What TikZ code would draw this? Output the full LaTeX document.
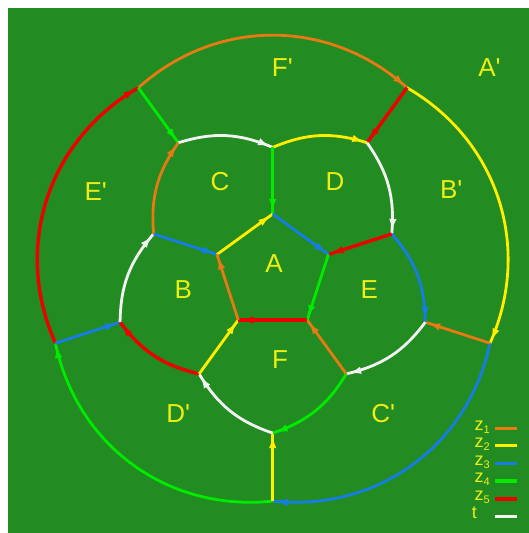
\documentclass[tikz,border=0pt]{standalone}
\usepackage{fontspec}
\setmainfont{Liberation Sans}[Ligatures=TeXOff]
\usetikzlibrary{decorations.markings,arrows.meta}
\definecolor{bg}{RGB}{34,139,34}
\definecolor{cOr}{RGB}{232,122,20}
\definecolor{cYe}{RGB}{255,238,0}
\definecolor{cBl}{RGB}{22,125,230}
\definecolor{cGr}{RGB}{0,235,0}
\definecolor{cRe}{RGB}{238,0,0}
\definecolor{cWh}{RGB}{242,242,242}
\definecolor{lab}{RGB}{238,238,20}
\tikzset{
  edge/.style={line width=2.8pt, postaction={decorate},
    decoration={markings, mark=at position -3pt with {\arrow{Latex[length=12pt,width=7.5pt]}}}},
  redge/.style={edge, line width=3.4pt},
  lbl/.style={text=lab, font=\fontsize{26}{26}\selectfont, inner sep=0pt},
  leg/.style={text=lab, font=\fontsize{18}{18}\selectfont, inner sep=0pt, anchor=mid east},
  swatch/.style={minimum width=22pt, minimum height=3.4pt, inner sep=0pt, outer sep=0pt}
}
\newcommand{\zsub}[1]{z{\fontsize{11}{11}\selectfont\raisebox{-3pt}{#1}}}
\begin{document}
\begin{tikzpicture}[x=1pt,y=1pt]
\useasboundingbox (0,0) rectangle (529,533);
\fill[bg] (8,0) rectangle (529,525);
\begin{scope}[shift={(272.7,260.4)}]
\foreach \i/\ang in {1/90,2/18,3/-54,4/-126,5/162}{
  \coordinate (a\i) at (\ang:58.6);
  \coordinate (b\i) at (\ang:125.2);
}
\foreach \i/\ang in {1/126,2/54,3/-18,4/-90,5/198}{
  \coordinate (c\i) at (\ang:160.5);
  \coordinate (d\i) at (\ang:228.5);
}
\end{scope}
% outer cycle
\draw[edge,cOr] (d1) to[bend left=42] (d2);
\draw[edge,cYe] (d2) to[bend left=42] (d3);
\draw[edge,cBl] (d3) to[bend left=42] (d4);
\draw[edge,cGr] (d4) to[bend left=42] (d5);
\draw[redge,cRe] (d5) to[bend left=42] (d1);
% outer spokes
\draw[edge,cGr] (d1) -- (c1);
\draw[redge,cRe] (d2) -- (c2);
\draw[edge,cOr] (d3) -- (c3);
\draw[edge,cYe] (d4) -- (c4);
\draw[edge,cBl] (d5) -- (c5);
% second ring
\draw[edge,cWh] (c1) to[bend left=20] (b1);
\draw[edge,cYe] (b1) to[bend left=20] (c2);
\draw[edge,cWh] (c2) to[bend left=20] (b2);
\draw[edge,cBl] (b2) to[bend left=20] (c3);
\draw[edge,cWh] (c3) to[bend left=20] (b3);
\draw[edge,cGr] (b3) to[bend left=20] (c4);
\draw[edge,cWh] (c4) to[bend left=20] (b4);
\draw[redge,cRe] (b4) to[bend left=20] (c5);
\draw[edge,cWh] (c5) to[bend left=20] (b5);
\draw[edge,cOr] (b5) to[bend left=20] (c1);
% inner spokes
\draw[edge,cGr] (b1) -- (a1);
\draw[redge,cRe] (b2) -- (a2);
\draw[edge,cOr] (b3) -- (a3);
\draw[edge,cYe] (b4) -- (a4);
\draw[edge,cBl] (b5) -- (a5);
% pentagon A
\draw[edge,cYe] (a5) -- (a1);
\draw[edge,cBl] (a1) -- (a2);
\draw[edge,cGr] (a2) -- (a3);
\draw[redge,cRe] (a3) -- (a4);
\draw[edge,cOr] (a4) -- (a5);
% labels
\node[lbl] (lA) at (274,269.7) {A};
\node[lbl] (lB) at (183.3,243) {B};
\node[lbl] (lE) at (369.3,243) {E};
\node[lbl] (lF) at (280,173.7) {F};
\node[lbl] (lC) at (220,351.3) {C};
\node[lbl] (lD) at (335,351.3) {D};
\node[lbl] (lDp) at (178.3,119.7) {D'};
\node[lbl] (lCp) at (383.3,119.7) {C'};
\node[lbl] (lFp) at (282.3,465.4) {F'};
\node[lbl] (lAp) at (489.5,465.4) {A'};
\node[lbl] (lEp) at (95.7,341) {E'};
\node[lbl] (lBp) at (451.3,343.7) {B'};
% legend
\node[leg] (t1) at (490,105.5) {\zsub{1}};
\node[leg] (t2) at (490,88) {\zsub{2}};
\node[leg] (t3) at (490,70.5) {\zsub{3}};
\node[leg] (t4) at (490,53) {\zsub{4}};
\node[leg] (t5) at (490,35.5) {\zsub{5}};
\node[leg] (t6) at (477,17) {t};
\node[swatch,fill=cOr] (s1) at (506,104.7) {};
\node[swatch,fill=cYe] (s2) at (506,87.3) {};
\node[swatch,fill=cBl] (s3) at (506,69.7) {};
\node[swatch,fill=cGr] (s4) at (506,52) {};
\node[swatch,fill=cRe] (s5) at (506,34) {};
\node[swatch,fill=cWh] (s6) at (506,16.3) {};
\end{tikzpicture}
\end{document}
